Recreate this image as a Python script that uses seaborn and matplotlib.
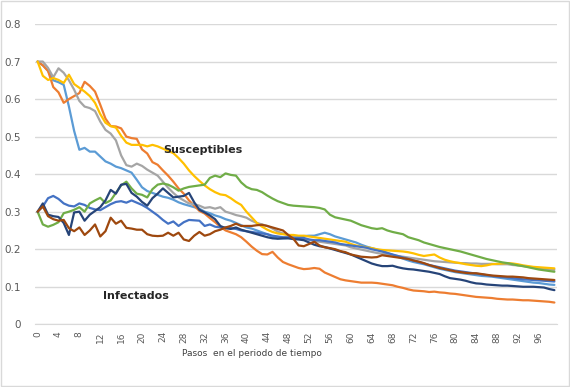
import numpy as np
import pandas as pd
import seaborn as sns
import matplotlib.pyplot as plt
from matplotlib.patches import Rectangle

steps = list(range(100))

# Susceptibles
s_lightblue = [
    0.700, 0.690, 0.675, 0.650, 0.645, 0.638, 0.580, 0.515, 0.465, 0.470,
    0.460, 0.460, 0.447, 0.434, 0.428, 0.420, 0.416, 0.410, 0.404, 0.385,
    0.365, 0.355, 0.350, 0.345, 0.340, 0.337, 0.332, 0.325, 0.320, 0.316,
    0.312, 0.308, 0.300, 0.296, 0.290, 0.286, 0.280, 0.276, 0.270, 0.264,
    0.258, 0.255, 0.250, 0.245, 0.240, 0.233, 0.229, 0.229, 0.230, 0.232,
    0.234, 0.235, 0.236, 0.236, 0.240, 0.244, 0.240, 0.234, 0.230, 0.226,
    0.222, 0.218, 0.212, 0.207, 0.203, 0.199, 0.195, 0.190, 0.185, 0.180,
    0.175, 0.170, 0.166, 0.163, 0.160, 0.156, 0.152, 0.148, 0.145, 0.142,
    0.139, 0.137, 0.135, 0.133, 0.131, 0.129, 0.128, 0.127, 0.125, 0.123,
    0.121, 0.119, 0.117, 0.115, 0.113, 0.111, 0.110, 0.108, 0.106, 0.105,
]
s_orange = [
    0.700, 0.690, 0.675, 0.632, 0.618, 0.590, 0.600, 0.608, 0.616, 0.646,
    0.635, 0.620, 0.585, 0.548, 0.528, 0.527, 0.522, 0.500, 0.496, 0.494,
    0.466, 0.455, 0.432, 0.425, 0.410, 0.396, 0.380, 0.362, 0.348, 0.330,
    0.316, 0.302, 0.295, 0.283, 0.272, 0.260, 0.250, 0.245, 0.240, 0.232,
    0.220, 0.207, 0.196, 0.187, 0.186, 0.193, 0.178, 0.166, 0.160, 0.155,
    0.150, 0.147, 0.148, 0.150, 0.148, 0.138, 0.132, 0.126, 0.120, 0.117,
    0.115, 0.113, 0.111, 0.111, 0.111, 0.110, 0.108, 0.106, 0.104, 0.100,
    0.097, 0.093, 0.090, 0.089, 0.088, 0.086, 0.087, 0.085, 0.084, 0.082,
    0.081, 0.079, 0.077, 0.075, 0.073, 0.072, 0.071, 0.070, 0.068, 0.067,
    0.066, 0.066, 0.065, 0.064, 0.064, 0.063, 0.062, 0.061, 0.060, 0.058,
]
s_gray = [
    0.700, 0.700, 0.683, 0.658, 0.682, 0.670, 0.650, 0.625, 0.595, 0.580,
    0.576, 0.568, 0.540, 0.518, 0.508, 0.490, 0.450, 0.424, 0.420, 0.428,
    0.422, 0.412, 0.404, 0.396, 0.380, 0.364, 0.350, 0.338, 0.330, 0.322,
    0.320, 0.316, 0.310, 0.312, 0.308, 0.312, 0.300, 0.296, 0.291, 0.288,
    0.284, 0.276, 0.270, 0.266, 0.262, 0.255, 0.247, 0.242, 0.238, 0.234,
    0.230, 0.227, 0.225, 0.222, 0.220, 0.218, 0.216, 0.214, 0.212, 0.210,
    0.205, 0.202, 0.199, 0.196, 0.193, 0.190, 0.188, 0.186, 0.184, 0.182,
    0.180, 0.178, 0.176, 0.174, 0.172, 0.170, 0.168, 0.167, 0.166, 0.165,
    0.164, 0.163, 0.163, 0.162, 0.162, 0.161, 0.161, 0.161, 0.160, 0.160,
    0.160, 0.158, 0.157, 0.155, 0.153, 0.151, 0.150, 0.148, 0.147, 0.145,
]
s_yellow = [
    0.700, 0.662, 0.651, 0.656, 0.651, 0.643, 0.665, 0.640, 0.630, 0.620,
    0.608, 0.590, 0.560, 0.537, 0.528, 0.524, 0.502, 0.484, 0.478, 0.478,
    0.478, 0.474, 0.478, 0.474, 0.468, 0.462, 0.456, 0.443, 0.428, 0.410,
    0.395, 0.382, 0.370, 0.360, 0.352, 0.346, 0.344, 0.336, 0.326, 0.318,
    0.300, 0.285, 0.270, 0.260, 0.252, 0.246, 0.242, 0.240, 0.238, 0.238,
    0.236, 0.236, 0.234, 0.232, 0.230, 0.228, 0.226, 0.224, 0.222, 0.220,
    0.214, 0.210, 0.207, 0.205, 0.203, 0.200, 0.198, 0.197, 0.196, 0.195,
    0.194, 0.192, 0.189, 0.185, 0.182, 0.184, 0.186, 0.178, 0.172, 0.168,
    0.165, 0.163, 0.160, 0.158, 0.156, 0.155, 0.157, 0.160, 0.161, 0.162,
    0.163, 0.162, 0.160, 0.157, 0.155, 0.153, 0.152, 0.151, 0.150, 0.149,
]

# Infectados
i_blue = [
    0.300, 0.314, 0.336, 0.342, 0.334, 0.322, 0.316, 0.314, 0.322, 0.318,
    0.310, 0.306, 0.304, 0.312, 0.320, 0.326, 0.328, 0.324, 0.330, 0.324,
    0.318, 0.310, 0.300, 0.290, 0.278, 0.268, 0.274, 0.262, 0.272, 0.278,
    0.277, 0.276, 0.262, 0.266, 0.260, 0.258, 0.258, 0.256, 0.254, 0.250,
    0.248, 0.246, 0.244, 0.242, 0.240, 0.236, 0.234, 0.232, 0.232, 0.230,
    0.230, 0.230, 0.226, 0.224, 0.224, 0.222, 0.220, 0.218, 0.214, 0.212,
    0.210, 0.208, 0.206, 0.204, 0.200, 0.197, 0.194, 0.190, 0.186, 0.182,
    0.178, 0.174, 0.170, 0.166, 0.162, 0.158, 0.155, 0.152, 0.149, 0.146,
    0.143, 0.141, 0.139, 0.137, 0.135, 0.133, 0.131, 0.129, 0.127, 0.126,
    0.125, 0.123, 0.121, 0.120, 0.119, 0.118, 0.117, 0.116, 0.115, 0.114,
]
i_green = [
    0.300, 0.266, 0.260, 0.265, 0.272, 0.296, 0.300, 0.305, 0.312, 0.300,
    0.322, 0.330, 0.337, 0.323, 0.330, 0.350, 0.370, 0.380, 0.362, 0.348,
    0.345, 0.338, 0.360, 0.372, 0.375, 0.372, 0.365, 0.356, 0.362, 0.366,
    0.368, 0.370, 0.372, 0.390, 0.396, 0.392, 0.402, 0.398, 0.396, 0.378,
    0.366, 0.360, 0.358, 0.352, 0.343, 0.335, 0.328, 0.323, 0.318, 0.316,
    0.315, 0.314, 0.313, 0.312, 0.310, 0.306, 0.292, 0.285, 0.282, 0.279,
    0.276, 0.270, 0.264, 0.260, 0.256, 0.254, 0.256, 0.250, 0.246, 0.243,
    0.240, 0.232, 0.228, 0.224, 0.218, 0.214, 0.210, 0.206, 0.203, 0.200,
    0.197, 0.194, 0.190, 0.186, 0.182, 0.178, 0.174, 0.171, 0.168, 0.165,
    0.163, 0.160, 0.157, 0.155, 0.152, 0.149, 0.146, 0.144, 0.142, 0.140,
]
i_darkblue = [
    0.300, 0.322, 0.292, 0.288, 0.286, 0.270, 0.238, 0.298, 0.300, 0.276,
    0.292, 0.302, 0.312, 0.330, 0.358, 0.348, 0.372, 0.374, 0.350, 0.340,
    0.326, 0.316, 0.336, 0.348, 0.362, 0.350, 0.338, 0.340, 0.342, 0.350,
    0.325, 0.305, 0.298, 0.290, 0.280, 0.262, 0.256, 0.254, 0.258, 0.252,
    0.248, 0.244, 0.240, 0.236, 0.232, 0.229, 0.228, 0.229, 0.229, 0.227,
    0.226, 0.224, 0.218, 0.212, 0.208, 0.206, 0.202, 0.198, 0.194, 0.190,
    0.186, 0.180, 0.174, 0.168, 0.162, 0.158, 0.155, 0.155, 0.156, 0.152,
    0.149, 0.147, 0.146, 0.144, 0.142, 0.140, 0.137, 0.134, 0.128, 0.123,
    0.121, 0.119, 0.116, 0.112, 0.109, 0.108, 0.106, 0.105, 0.104, 0.103,
    0.103, 0.102, 0.101, 0.100, 0.100, 0.100, 0.099, 0.098, 0.094, 0.091,
]
i_brown = [
    0.300, 0.314, 0.288, 0.280, 0.276, 0.278, 0.256, 0.248, 0.258, 0.238,
    0.250, 0.266, 0.234, 0.248, 0.284, 0.268, 0.276, 0.257, 0.255, 0.252,
    0.252, 0.240, 0.236, 0.235, 0.236, 0.244, 0.236, 0.244, 0.226, 0.222,
    0.236, 0.246, 0.236, 0.240, 0.248, 0.252, 0.258, 0.262, 0.268, 0.262,
    0.262, 0.262, 0.264, 0.265, 0.262, 0.258, 0.254, 0.250, 0.238, 0.228,
    0.210, 0.208, 0.214, 0.220, 0.210, 0.205, 0.203, 0.200, 0.195, 0.192,
    0.186, 0.183, 0.180, 0.179, 0.178, 0.179, 0.184, 0.182, 0.180, 0.178,
    0.176, 0.174, 0.170, 0.167, 0.163, 0.158, 0.154, 0.150, 0.147, 0.144,
    0.141, 0.139, 0.137, 0.136, 0.136, 0.134, 0.132, 0.130, 0.129, 0.128,
    0.127, 0.127, 0.126, 0.125, 0.123, 0.122, 0.121, 0.120, 0.119, 0.118,
]

series = {
    "S1": s_lightblue, "S2": s_orange, "S3": s_gray, "S4": s_yellow,
    "I1": i_blue, "I2": i_green, "I3": i_darkblue, "I4": i_brown,
}
colors = {
    "S1": "#5B9BD5", "S2": "#ED7D31", "S3": "#A5A5A5", "S4": "#FFC000",
    "I1": "#4472C4", "I2": "#70AD47", "I3": "#264478", "I4": "#9E480E",
}

df = pd.DataFrame(
    [(k, x, v) for k, vals in series.items() for x, v in zip(steps, vals)],
    columns=["serie", "paso", "valor"],
)

sns.set_style("white")
plt.rcParams["font.family"] = ["DejaVu Sans"]

fig = plt.figure(figsize=(5.7, 3.87), dpi=100)
ax = fig.add_axes([35 / 570, 62.7 / 387, 522 / 570, 300.3 / 387])

sns.lineplot(data=df, x="paso", y="valor", hue="serie", palette=colors,
             linewidth=1.6, legend=False, ax=ax)

ax.set_xlim(-0.5, 99.5)
ax.set_ylim(0, 0.8)
ax.set_yticks(np.arange(0, 0.81, 0.1))
ax.set_yticklabels(["0"] + [f"{v:.1f}" for v in np.arange(0.1, 0.81, 0.1)])
ax.set_xticks(range(0, 100, 4))
ax.set_xticklabels([str(v) for v in range(0, 100, 4)], rotation=90)
ax.tick_params(axis="y", labelsize=7.5, colors="#595959", length=0, pad=10)
ax.tick_params(axis="x", labelsize=6.5, colors="#595959", length=0, pad=5)
ax.yaxis.grid(True, color="#D9D9D9", linewidth=1)
ax.set_axisbelow(True)
for side in ["top", "right", "left"]:
    ax.spines[side].set_visible(False)
ax.spines["bottom"].set_color("#D9D9D9")
ax.set_xlabel("")
ax.set_ylabel("")

ax.text(24.0, 0.465, "Susceptibles", fontsize=8, color="#262626",
        fontweight="semibold", va="center", ha="left")
ax.text(12.5, 0.076, "Infectados", fontsize=8, color="#262626",
        fontweight="semibold", va="center", ha="left")

fig.text(252 / 570, 1 - 353 / 387, "Pasos  en el periodo de tiempo",
         fontsize=6.5, color="#404040", ha="center", va="center")

fig.patches.append(Rectangle((0.001, 0.002), 0.997, 0.995, transform=fig.transFigure,
                             fill=False, edgecolor="#D9D9D9", linewidth=1))

fig.savefig("out.png", dpi=100)
